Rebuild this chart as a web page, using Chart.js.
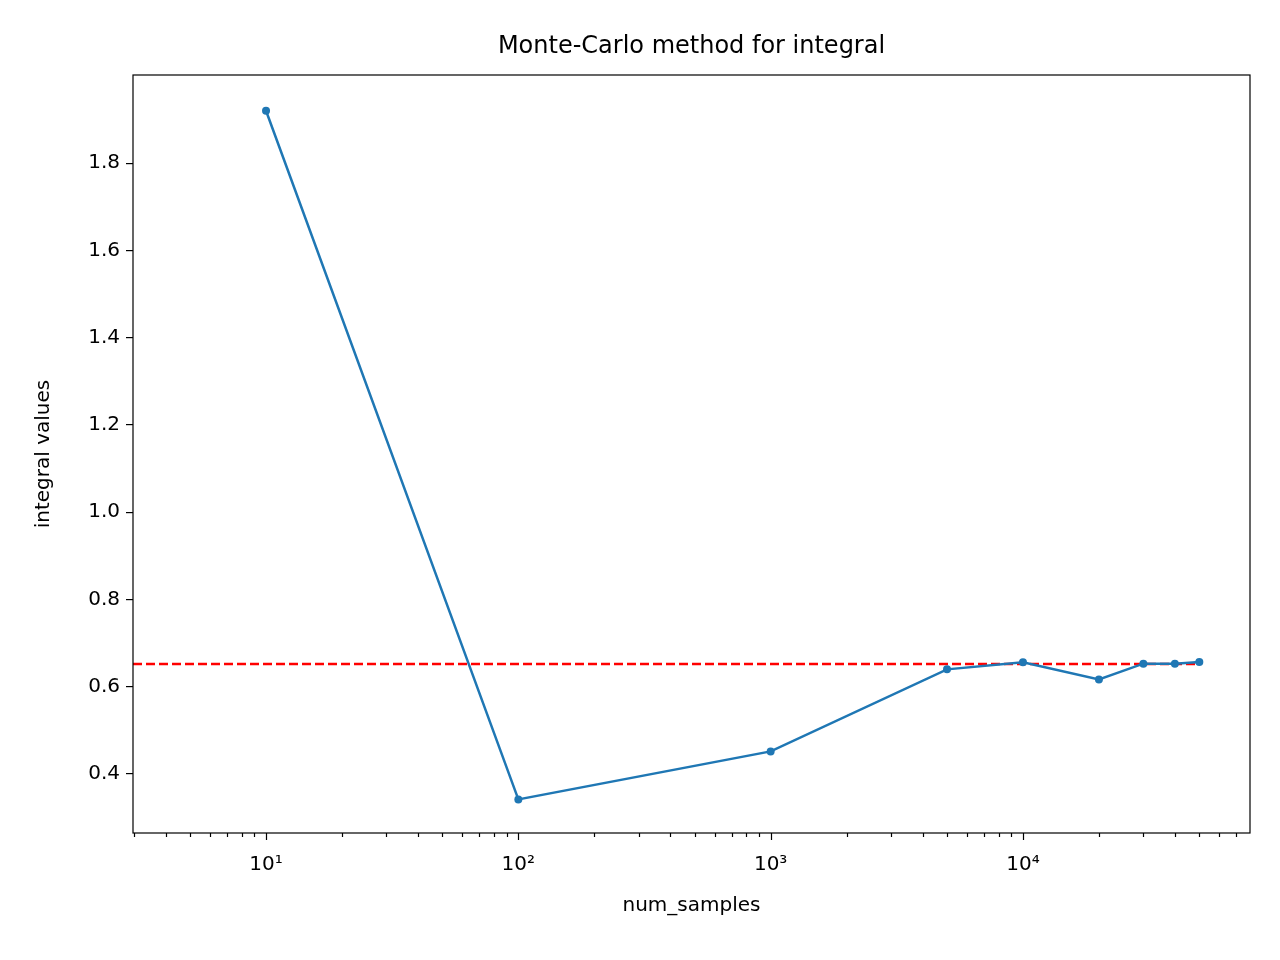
<!DOCTYPE html>
<html><head><meta charset="utf-8">
<script src="https://cdn.jsdelivr.net/npm/chart.js@4"></script>
<style>html,body{margin:0;padding:0;background:#fff}#w{width:1280px;height:960px}</style>
</head><body><div id="w"><canvas id="c"></canvas></div>
<script>
const numSamples = [10, 100, 1000, 5000, 10000, 20000, 30000, 40000, 50000];
const integralValues = [1.92, 0.342, 0.452, 0.64, 0.656, 0.617, 0.653, 0.653, 0.657];
const trueValue = 0.652;
const refLineX = [2.97, 50000];
const yTicks = [0.4, 0.6, 0.8, 1.0, 1.2, 1.4, 1.6, 1.8];
const sup = {1:'¹',2:'²',3:'³',4:'⁴'};
const xTicks = [];
for (let e = 0; e <= 4; e++) for (let m = 1; m <= 9; m++) { const v = m * Math.pow(10, e); if (v >= 3 && v <= 79000) xTicks.push(v); }
const FONT = "'DejaVu Sans', sans-serif";

const deco = {
  id: 'deco',
  afterDraw(chart) {
    const ctx = chart.ctx, a = chart.chartArea, xs = chart.scales.x;
    ctx.save();
    ctx.strokeStyle = '#000'; ctx.lineWidth = 1.2;
    ctx.strokeRect(a.left, a.top, a.right - a.left, a.bottom - a.top);
    xTicks.forEach(v => {
      const px = Math.round(xs.getPixelForValue(v)) + 0.5;
      const major = Math.abs(Math.log10(v) - Math.round(Math.log10(v))) < 1e-9;
      ctx.beginPath(); ctx.moveTo(px, a.bottom); ctx.lineTo(px, a.bottom + (major ? 7 : 4)); ctx.stroke();
    });
    ctx.fillStyle = '#000'; ctx.textAlign = 'center'; ctx.textBaseline = 'middle';
    ctx.font = '24px ' + FONT;
    ctx.fillText('Monte-Carlo method for integral', (a.left + a.right) / 2, 47);
    ctx.restore();
  }
};

new Chart(document.getElementById('c'), {
  type: 'line',
  data: { datasets: [
    { data: numSamples.map((x, i) => ({x, y: integralValues[i]})), borderColor: '#1f77b4', backgroundColor: '#1f77b4',
      borderWidth: 2.5, pointRadius: 4, pointBorderWidth: 0, tension: 0 },
    { data: refLineX.map(x => ({x, y: trueValue})), borderColor: '#ff0000', borderWidth: 2.5, borderDash: [9, 4],
      pointRadius: 0, tension: 0 }
  ]},
  options: {
    responsive: true, maintainAspectRatio: false, animation: false,
    layout: { padding: { top: 75, right: 30, left: 28, bottom: 38 } },
    plugins: { legend: { display: false }, tooltip: { enabled: false } },
    scales: {
      x: { type: 'logarithmic', min: 2.97, max: 79400,
        afterFit(s) { s.height = 89; },
        afterBuildTicks(s) { s.ticks = xTicks.map(v => ({value: v})); },
        grid: { display: false }, border: { display: false },
        ticks: { autoSkip: false, maxRotation: 0, color: '#000', font: { size: 20, family: FONT }, padding: 12,
          callback(v) { const e = Math.round(Math.log10(v)); return Math.abs(Math.log10(v) - e) < 1e-9 ? '10' + sup[e] : ''; } },
        title: { display: true, text: 'num_samples', color: '#000', font: { size: 20, family: FONT }, padding: { top: 4 } } },
      y: { type: 'linear', min: 0.265, max: 2.002,
        afterFit(s) { s.width = 105; },
        afterBuildTicks(s) { s.ticks = yTicks.map(v => ({value: v})); },
        grid: { drawOnChartArea: false, tickLength: 7, color: '#000', lineWidth: 1.2 }, border: { display: false },
        ticks: { color: '#000', font: { size: 20, family: FONT }, padding: 6, callback: v => v.toFixed(1) },
        title: { display: true, text: 'integral values', color: '#000', font: { size: 20, family: FONT }, padding: { bottom: 6 } } }
    }
  },
  plugins: [deco]
});
</script></body></html>
